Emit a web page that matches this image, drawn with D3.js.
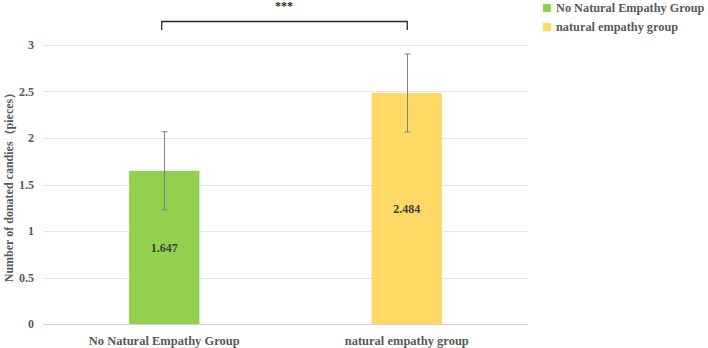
<!DOCTYPE html>
<html>
<head>
<meta charset="utf-8">
<script src="https://cdn.jsdelivr.net/npm/d3@7"></script>
<style>
  body { margin: 0; background: #fff; }
  text { font-family: "Liberation Serif", "Times New Roman", serif; font-weight: bold; }
</style>
</head>
<body>
<div id="chart"></div>
<script>
// data
var groups = ["No Natural Empathy Group", "natural empathy group"];
var means = [1.647, 2.484];
var errs = [0.42, 0.42];
var colors = ["#92D050", "#FFD966"];
var yTicks = [0, 0.5, 1, 1.5, 2, 2.5, 3];
var sigLabel = "***";

const margin = { top: 45, bottom: 24, left: 43, right: 180 };
const W = 708, H = 348;
const width = W - margin.left - margin.right;
const height = H - margin.top - margin.bottom;

var svg = d3.select("#chart").append("svg")
    .attr("width", W)
    .attr("height", H);

var canvas = svg.append("g")
    .attr("transform", `translate(${margin.left},${margin.top})`);

var xScale = d3.scaleBand()
    .domain(groups)
    .range([0, width])
    .paddingInner(0.71)
    .paddingOuter(0.355);

var yScale = d3.scaleLinear()
    .domain([0, 3])
    .range([height, 0]);

// gridlines
canvas.append("g")
    .selectAll("line")
    .data(yTicks)
    .join("line")
    .attr("x1", 0)
    .attr("x2", width)
    .attr("y1", function (d) { return Math.round(yScale(d)) + 0.5; })
    .attr("y2", function (d) { return Math.round(yScale(d)) + 0.5; })
    .attr("stroke", function (d) { return d === 0 ? "#d0d0d0" : "#e6e6e6"; })
    .attr("stroke-width", 1);

// y axis labels
var yAxis = canvas.append("g")
    .call(d3.axisLeft(yScale).tickValues(yTicks).tickSize(0).tickPadding(9).tickFormat(d3.format("")));
yAxis.select(".domain").remove();
yAxis.selectAll("text")
    .attr("fill", "#595959")
    .style("font-size", "12px")
    .style("font-family", "Liberation Serif, serif")
    .style("font-weight", "bold");

// bars
canvas.append("g")
    .selectAll("rect")
    .data(means)
    .join("rect")
    .attr("x", function (d, i) { return xScale(groups[i]); })
    .attr("y", function (d) { return yScale(d); })
    .attr("width", xScale.bandwidth())
    .attr("height", function (d) { return height - yScale(d); })
    .attr("fill", function (d, i) { return colors[i]; });

// error bars
var eb = canvas.append("g").attr("stroke", "#808080").attr("stroke-width", 1);
means.forEach(function (m, i) {
    var cx = Math.round(xScale(groups[i]) + xScale.bandwidth() / 2) + 0.5;
    var top = yScale(m + errs[i]), bot = yScale(m - errs[i]);
    eb.append("line").attr("x1", cx).attr("x2", cx).attr("y1", top).attr("y2", bot);
    eb.append("line").attr("x1", cx - 3).attr("x2", cx + 3).attr("y1", top).attr("y2", top);
    eb.append("line").attr("x1", cx - 3).attr("x2", cx + 3).attr("y1", bot).attr("y2", bot);
});

// value labels
canvas.append("g")
    .selectAll("text")
    .data(means)
    .join("text")
    .attr("x", function (d, i) { return xScale(groups[i]) + xScale.bandwidth() / 2; })
    .attr("y", function (d) { return yScale(d / 2); })
    .attr("dy", "0.35em")
    .attr("text-anchor", "middle")
    .attr("fill", "#404040")
    .style("font-size", "12px")
    .text(function (d) { return d3.format(".3f")(d); });

// category labels
canvas.append("g")
    .selectAll("text")
    .data(groups)
    .join("text")
    .attr("x", function (d) { return xScale(d) + xScale.bandwidth() / 2; })
    .attr("y", height + 17)
    .attr("dy", "0.35em")
    .attr("text-anchor", "middle")
    .attr("fill", "#595959")
    .style("font-size", "12.5px")
    .text(function (d) { return d; });

// y axis title
svg.append("text")
    .attr("transform", `translate(9,${margin.top + height / 2}) rotate(-90)`)
    .attr("dy", "0.35em")
    .attr("text-anchor", "middle")
    .attr("fill", "#595959")
    .style("font-size", "12px")
    .text("Number of donated candies（pieces）");

// significance bracket
var x1 = xScale(groups[0]) + xScale.bandwidth() / 2 - 3;
var x2 = xScale(groups[1]) + xScale.bandwidth() / 2;
svg.append("path")
    .attr("d", `M${margin.left + x1 + 0.5},30 V21.5 H${margin.left + x2 + 0.5} V30`)
    .attr("fill", "none")
    .attr("stroke", "#262626")
    .attr("stroke-width", 1.3);
svg.append("text")
    .attr("x", margin.left + (x1 + x2) / 2)
    .attr("y", 10)
    .attr("text-anchor", "middle")
    .attr("fill", "#262626")
    .style("font-size", "12px")
    .text(sigLabel);

// legend
var legend = svg.append("g").attr("transform", "translate(543,0)");
groups.forEach(function (g, i) {
    var yy = 8 + i * 19;
    legend.append("rect")
        .attr("x", 0).attr("y", yy - 4)
        .attr("width", 8).attr("height", 8)
        .attr("fill", colors[i]);
    legend.append("text")
        .attr("x", 13).attr("y", yy)
        .attr("dy", "0.35em")
        .attr("fill", "#595959")
        .style("font-size", "12.3px")
        .text(g);
});
</script>
</body>
</html>
